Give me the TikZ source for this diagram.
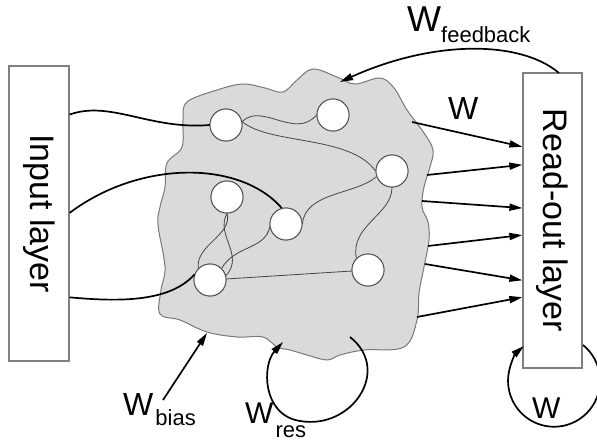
\documentclass[tikz,border=0pt]{standalone}
\usepackage{fontspec}
\setmainfont{Liberation Sans}
\usetikzlibrary{arrows.meta,calc}

\definecolor{poolfill}{RGB}{218,218,218}
\definecolor{pooledge}{RGB}{120,120,120}
\definecolor{boxgray}{RGB}{128,128,128}
\definecolor{unitgray}{RGB}{80,80,80}
\definecolor{linkgray}{RGB}{70,70,70}

\begin{document}
\begin{tikzpicture}[x=1pt,y=-1pt,
  layerbox/.style={draw=boxgray, line width=1.2pt, fill=white, inner sep=0pt},
  layertext/.style={rotate=-90, inner sep=0pt, font=\fontsize{34}{40}\selectfont},
  unit/.style={circle, draw=unitgray, line width=0.9pt, fill=white,
               minimum size=32pt, inner sep=0pt},
  link/.style={draw=linkgray, line width=0.8pt},
  feed/.style={draw=black, line width=1.7pt},
  weight/.style={draw=black, line width=1.7pt, -{Triangle[length=13pt,width=7pt]}},
  lbl/.style={inner sep=0pt, anchor=base west}
]
\useasboundingbox (0,0) rectangle (597,441);

% reservoir pool
\draw[fill=poolfill, draw=pooledge, line width=1pt] plot[smooth cycle, tension=0.6] coordinates {
  (187,102) (217,90) (243,84) (265,88) (283,92) (297,80) (313,69) (337,77)
  (355,84) (380,78) (394,88) (407,110) (424,133) (433,150) (430,167)
  (424,187) (422,207) (428,222) (429,240) (424,267) (419,293) (417,320)
  (404,347) (364,350) (340,355) (327,360) (307,355) (290,350) (277,347)
  (263,337) (237,337) (207,332) (180,320) (160,314) (161,290) (165,267)
  (158,225) (160,207) (165,187) (167,163) (182,147) (183,120)};

% input and read-out layers
\node[layerbox, minimum width=60pt, minimum height=295pt] (inp) at (39,213.5) {};
\node[layertext] (inptext) at (inp.center) {Input layer};
\node[layerbox, minimum width=59pt, minimum height=295pt] (ro) at (552.5,220.5) {};
\node[layertext] (rotext) at (ro.center) {Read-out layer};

% reservoir units
\node[unit] (c1) at (226,125) {};
\node[unit] (c2) at (333,115) {};
\node[unit] (c3) at (392,171) {};
\node[unit] (c4) at (227,197) {};
\node[unit] (c5) at (286,224) {};
\node[unit] (c6) at (210,280) {};
\node[unit] (c7) at (368,270) {};

% recurrent links inside the pool
\draw[link] (c1.12) .. controls (262,102) and (295,140) .. (c2.west);
\draw[link] (c1.12) .. controls (270,145) and (350,135) .. (c3.west);
\draw[link] (c3.200) .. controls (355,195) and (305,192) .. (c5.east);
\draw[link] (c3.south) .. controls (392,215) and (350,225) .. (c7.135);
\draw[link] (c4.south) .. controls (215,235) and (245,255) .. (c6.15);
\draw[link] (c4.south) .. controls (233,235) and (195,245) .. (c6.135);
\draw[link] (c5.190) .. controls (265,250) and (235,245) .. (c6.45);
\draw[link] (c6) -- (c7);
% units painted again so the links end at their rims
\foreach \u in {c1,c2,c3,c4,c5,c6,c7}
  \draw[draw=unitgray, line width=0.9pt, fill=white] (\u) circle[radius=16pt];

% input connections
\coordinate (i1) at ($(inp.north east)!0.166!(inp.south east)$);
\coordinate (i2) at ($(inp.north east)!0.498!(inp.south east)$);
\coordinate (i3) at ($(inp.north east)!0.783!(inp.south east)$);
\draw[feed] (i1) .. controls (110,100) and (150,130) .. (c1.west);
\draw[feed] (i2) .. controls (140,160) and (240,160) .. (c5.105);
\draw[feed] (i3) .. controls (120,302) and (170,302) .. (c6.160);

% output weights W
\coordinate (o1) at (412,122);
\coordinate (o2) at (427,175);
\coordinate (o3) at (422,201);
\coordinate (o4) at (428,246);
\coordinate (o5) at (425,264);
\coordinate (o6) at (417,317);
\foreach \s/\f in {o1/0.251, o2/0.312, o3/0.458, o4/0.549, o5/0.702, o6/0.759}
  \draw[weight] (\s) -- ($(ro.north west)!\f!(ro.south west)$);

% feedback weights
\coordinate (fbs) at (559,73);
\coordinate (fbe) at (340,82);
\draw[weight] (fbs) .. controls (520,40) and (433,40) .. (fbe);

% bias weights
\coordinate (bs) at (163,400);
\coordinate (be) at (207,333);
\draw[weight] (bs) -- (be);

% reservoir self-connection loop
\coordinate (rs) at (350,337);
\coordinate (rm) at (300,421);
\coordinate (re) at (283,342);
\draw[weight] (rs) .. controls (392,370) and (352,430) .. (rm)
              .. controls (262,415) and (262,365) .. (re);

% read-out self-connection loop
\coordinate (ls) at (583,345);
\draw[weight] (ls) arc[start angle=51, end angle=-229, radius=46pt];

% labels
\node[lbl, font=\fontsize{36}{40}\selectfont] (wfb) at (407,32)
  {W\raisebox{-11pt}{\fontsize{22}{24}\selectfont feedback}};
\node[lbl, font=\fontsize{32}{36}\selectfont] (wout) at (448,120) {W};
\node[lbl, font=\fontsize{32}{36}\selectfont] (wbias) at (123,415)
  {W\kern2pt\raisebox{-10pt}{\fontsize{22}{24}\selectfont bias}};
\node[lbl, font=\fontsize{30}{34}\selectfont] (wres) at (245,423)
  {W\kern2pt\raisebox{-14pt}{\fontsize{22}{24}\selectfont res}};
\node[lbl, font=\fontsize{30}{34}\selectfont] (wro) at (532,418) {W};
\end{tikzpicture}
\end{document}
